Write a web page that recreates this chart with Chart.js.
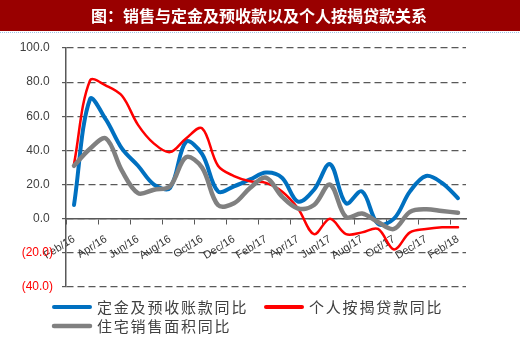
<!DOCTYPE html>
<html><head><meta charset="utf-8">
<script src="https://cdn.jsdelivr.net/npm/chart.js@4.4.1/dist/chart.umd.min.js"></script>
<style>html,body{margin:0;padding:0;background:#fff;}#wrap{width:520px;height:343px;position:relative;}</style>
</head><body><div id="wrap"><canvas id="c" width="520" height="343"></canvas></div>
<script>
const titleText = '图：销售与定金及预收款以及个人按揭贷款关系';
const categories = ['Feb/16','Mar/16','Apr/16','May/16','Jun/16','Jul/16','Aug/16','Sep/16','Oct/16','Nov/16','Dec/16','Jan/17',
  'Feb/17','Mar/17','Apr/17','May/17','Jun/17','Jul/17','Aug/17','Sep/17','Oct/17','Nov/17','Dec/17','Jan/18','Feb/18'];
const tickLabels = ['Feb/16','Apr/16','Jun/16','Aug/16','Oct/16','Dec/16','Feb/17','Apr/17','Jun/17','Aug/17','Oct/17','Dec/17','Feb/18'];
const seriesNames = ['定金及预收账款同比','个人按揭贷款同比','住宅销售面积同比'];
const depositYoY   = [8, 70, 58, 41, 31, 20, 18, 45, 38, 16, 19, 23, 27, 24, 10, 17, 32, 9, 16, -3, 0, 16, 25, 21, 12];
const mortgageYoY  = [32, 81, 78, 72, 55, 44, 39, 47, 53, 31, 25, 22, 21, 16, 6, -9, 0, -9, -8, -6, -18, -8, -6, -5, -5];
const salesAreaYoY = [31, 41, 47, 28, 15, 17, 19, 36, 30, 8, 9, 18, 24, 13, 6, 8, 20, 1, 3, -2, -6, 4, 5.5, 4.5, 3.5];
const yMin = -40, yMax = 100, yStep = 20;

const legendPos = [[52,307],[264,307],[52,326]];
const decor = {
  id: 'decor',
  beforeDraw(chart) {
    const ctx = chart.ctx;
    ctx.save();
    ctx.fillStyle = '#ffffff'; ctx.fillRect(0,0,chart.width,chart.height);
    ctx.fillStyle = '#990000'; ctx.fillRect(0,0,chart.width,31);
    ctx.strokeStyle = '#9DC3E6'; ctx.lineWidth = 1; ctx.setLineDash([1,1]);
    ctx.beginPath(); ctx.moveTo(0,32.5); ctx.lineTo(chart.width,32.5); ctx.stroke();
    ctx.setLineDash([]);
    ctx.fillStyle = '#ffffff'; ctx.font = 'bold 16px "Noto Sans CJK SC"';
    ctx.textAlign = 'center'; ctx.textBaseline = 'middle';
    ctx.fillText(titleText, 259, 16);
    ctx.restore();
  },
  afterDraw(chart) {
    const ctx = chart.ctx;
    ctx.save();
    chart.data.datasets.forEach((ds, i) => {
      const [x, y] = legendPos[i];
      ctx.strokeStyle = ds.borderColor; ctx.lineWidth = Math.max(ds.borderWidth, 4); ctx.lineCap = 'round';
      ctx.beginPath(); ctx.moveTo(x + 2, y); ctx.lineTo(x + 38, y); ctx.stroke();
      ctx.fillStyle = '#404040'; ctx.font = '15px "Noto Sans CJK SC"';
      if ('letterSpacing' in ctx) ctx.letterSpacing = '1.8px';
      ctx.textAlign = 'left'; ctx.textBaseline = 'middle';
      ctx.fillText(ds.label, x + 45, y);
      if ('letterSpacing' in ctx) ctx.letterSpacing = '0px';
    });
    ctx.restore();
  }
};

const common = {pointRadius: 0, pointHoverRadius: 0, tension: 0.35, fill: false, borderCapStyle: 'round', borderJoinStyle: 'round'};
new Chart(document.getElementById('c'), {
  type: 'line',
  data: {
    labels: categories,
    datasets: [
      Object.assign({label: seriesNames[0], data: depositYoY, borderColor: '#0070C0', backgroundColor: '#0070C0', borderWidth: 4, order: 3}, common),
      Object.assign({label: seriesNames[1], data: mortgageYoY, borderColor: '#FF0000', backgroundColor: '#FF0000', borderWidth: 2.5, order: 2}, common),
      Object.assign({label: seriesNames[2], data: salesAreaYoY, borderColor: '#808080', backgroundColor: '#808080', borderWidth: 4.5, order: 1}, common)
    ]
  },
  options: {
    responsive: false, animation: false, devicePixelRatio: 1,
    events: [],
    layout: {padding: {left: 0, top: 48, right: 54, bottom: 56}},
    plugins: {legend: {display: false}, title: {display: false}, tooltip: {enabled: false}},
    scales: {
      x: {
        type: 'category', offset: true, position: {y: 0},
        grid: {drawOnChartArea: false, offset: true, tickLength: 5, lineWidth: 1,
          color: (c) => (c.index % 2 === 0 ? '#595959' : 'rgba(0,0,0,0)')},
        border: {display: true, color: '#595959', width: 1.5},
        ticks: {autoSkip: false, minRotation: 32, maxRotation: 32, padding: 9, color: '#333333',
          font: {family: '"Liberation Sans", Arial', size: 11},
          callback: (v, i) => (i % 2 === 0 ? tickLabels[i / 2] : '')}
      },
      y: {
        min: yMin, max: yMax,
        afterFit: (s) => { s.width = 66; },
        grid: {color: '#595959', lineWidth: 1.2, tickLength: 4, tickBorderDash: []},
        border: {display: true, color: '#595959', width: 1.5, dash: [7, 4]},
        ticks: {stepSize: yStep, padding: 9,
          font: {family: '"Liberation Sans", Arial', size: 12},
          color: (c) => (c.tick && c.tick.value < 0 ? '#FF0000' : '#404040'),
          callback: (v) => (v < 0 ? '(' + Math.abs(v).toFixed(1) + ')' : v.toFixed(1) + '\u00a0')}
      }
    }
  },
  plugins: [decor]
});
</script></body></html>
